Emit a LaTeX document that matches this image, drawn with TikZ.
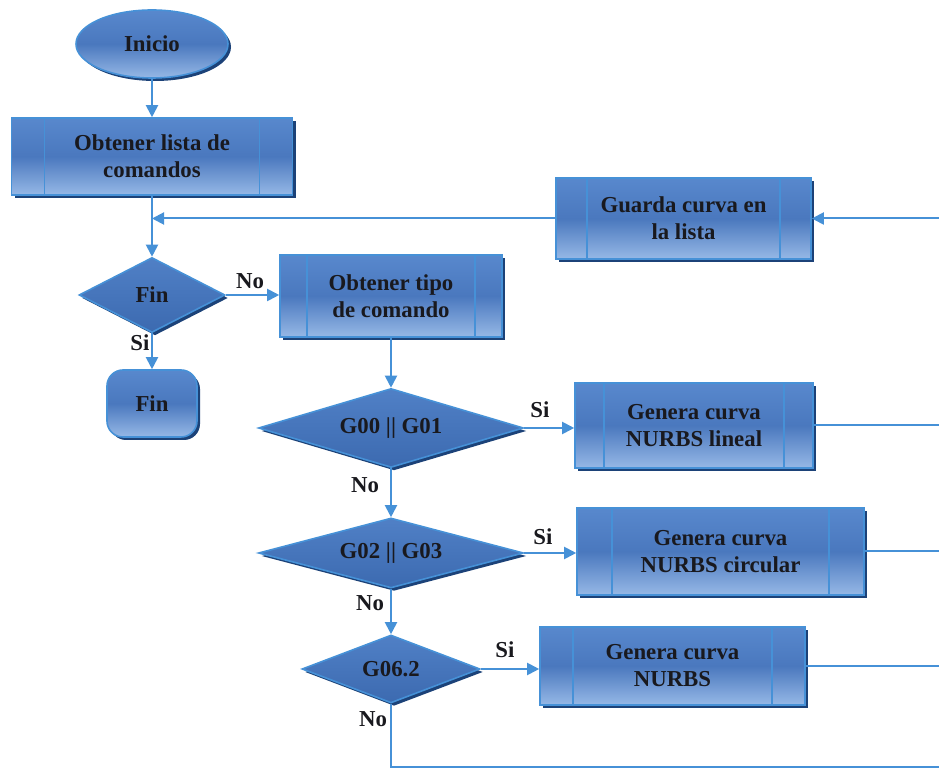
\documentclass[tikz,border=0pt]{standalone}
\usepackage{fontspec}
\setmainfont{Liberation Serif}
\usetikzlibrary{shapes.geometric,arrows.meta,shadows,calc}

\definecolor{flowline}{RGB}{70,145,215}
\definecolor{boxtop}{RGB}{88,136,205}
\definecolor{boxmid}{RGB}{74,120,190}
\definecolor{boxbot}{RGB}{150,184,230}
\definecolor{dmdtop}{RGB}{80,128,198}
\definecolor{dmdbot}{RGB}{60,106,176}
\definecolor{boxshadow}{RGB}{28,66,120}
\definecolor{textdark}{RGB}{25,25,30}

\tikzset{
  base/.style={draw=flowline, line width=0.8pt, text=textdark, align=center,
    inner sep=0pt, font=\fontsize{11.4}{13.5}\selectfont\bfseries,
    drop shadow={shadow xshift=1.5pt, shadow yshift=-1.5pt, fill=boxshadow, opacity=1}},
  procbox/.style={base, rectangle, top color=boxtop, bottom color=boxbot, middle color=boxmid,
    path picture={
      \draw[flowline, line width=0.8pt]
        ([xshift=#1]path picture bounding box.north west) -- ([xshift=#1]path picture bounding box.south west)
        ([xshift=-#1]path picture bounding box.north east) -- ([xshift=-#1]path picture bounding box.south east);}},
  procbox/.default=15pt,
  decision/.style={base, diamond, top color=dmdtop, bottom color=dmdbot},
  terminal/.style={base, top color=boxtop, bottom color=boxbot, middle color=boxmid},
  lbl/.style={text=textdark, inner sep=0pt, font=\fontsize{11.4}{13.5}\selectfont\bfseries},
  flow/.style={draw=flowline, line width=1pt},
  flowarrow/.style={flow, -{Triangle[length=6pt,width=6pt]}},
}

\begin{document}
\begin{tikzpicture}[x=0.5pt, y=-0.5pt]
  \useasboundingbox (0,0) rectangle (939,769);
  \coordinate (edge) at (939,0);

  % start / end
  \node[terminal, ellipse, minimum width=76pt, minimum height=34pt] (inicio) at (152,44) {Inicio};
  \node[terminal, rectangle, rounded corners=8pt, minimum width=45pt, minimum height=33.5pt] (finend) at (152,403.5) {Fin};

  % processes
  \node[procbox=16.5pt, minimum width=140.5pt, minimum height=38.5pt] (lista) at (152,156.5) {Obtener lista de\\comandos};
  \node[procbox=15.5pt, minimum width=127.5pt, minimum height=40.5pt] (guarda) at (683.5,218.5) {Guarda curva en\\la lista};
  \node[procbox=13.5pt, minimum width=111pt, minimum height=41pt] (tipo) at (391,296) {Obtener tipo\\de comando};
  \node[procbox=14.5pt, minimum width=119pt, minimum height=42.5pt] (lineal) at (694,425.5) {Genera curva\\NURBS lineal};
  \node[procbox=17.5pt, minimum width=143.5pt, minimum height=43.5pt] (circular) at (720.5,551.5) {Genera curva\\NURBS circular};
  \node[procbox=16.5pt, minimum width=132.5pt, minimum height=39pt] (nurbs) at (672.5,666) {Genera curva\\NURBS};

  % decisions
  \node[decision, aspect=1.95, minimum width=73pt, minimum height=37.5pt] (dfin) at (152,295) {Fin};
  \node[decision, aspect=3.35, minimum width=132.5pt, minimum height=39.5pt] (dlin) at (391,428) {G00 || G01};
  \node[decision, aspect=3.8, minimum width=132.5pt, minimum height=35pt] (dcirc) at (391,553) {G02 || G03};
  \node[decision, aspect=2.6, minimum width=89pt, minimum height=34pt] (dnurbs) at (391,669) {G06.2};

  % main flow
  \draw[flowarrow] (inicio) -- (lista);
  \coordinate (join) at (lista.south |- guarda.west);
  \draw[flowarrow] (lista.south) -- (dfin.north);
  \draw[flowarrow] (guarda.west) -- (join);
  \draw[flowarrow] (edge |- guarda.east) -- (guarda.east);
  \draw[flowarrow] (dfin.east) -- (dfin.east -| tipo.west);
  \draw[flowarrow] (dfin.south) -- (finend.north);
  \draw[flowarrow] (tipo.south) -- (dlin.north);
  \draw[flowarrow] (dlin.east) -- (dlin.east -| lineal.west);
  \draw[flowarrow] (dlin.south) -- (dcirc.north);
  \draw[flowarrow] (dcirc.east) -- (dcirc.east -| circular.west);
  \draw[flowarrow] (dcirc.south) -- (dnurbs.north);
  \draw[flowarrow] (dnurbs.east) -- (dnurbs.east -| nurbs.west);

  % returns toward the right margin
  \coordinate (bottom) at (391,767);
  \draw[flow] (lineal.east) -- (edge |- lineal.east);
  \draw[flow] (circular.east) -- (edge |- circular.east);
  \draw[flow] (nurbs.east) -- (edge |- nurbs.east);
  \draw[flow] (dnurbs.south) -- (bottom) -- (edge |- bottom);

  % branch labels
  \node[lbl] (lno1) at (250,281) {No};
  \node[lbl] (lsi1) at (140,343) {Si};
  \node[lbl] (lsi2) at (540,410) {Si};
  \node[lbl] (lno2) at (365,485) {No};
  \node[lbl] (lsi3) at (543,537) {Si};
  \node[lbl] (lno3) at (370,603) {No};
  \node[lbl] (lsi4) at (505,650) {Si};
  \node[lbl] (lno4) at (373,719) {No};
\end{tikzpicture}
\end{document}
